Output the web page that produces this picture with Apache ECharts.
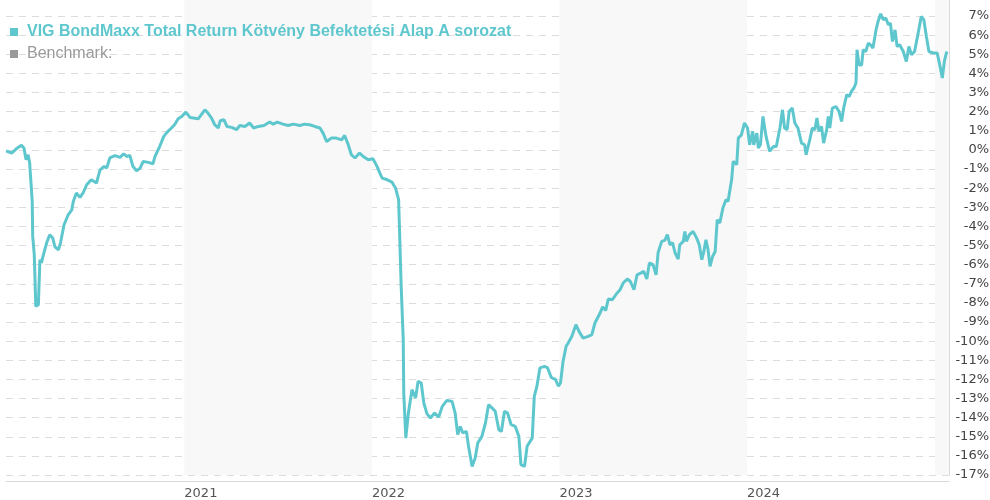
<!DOCTYPE html>
<html>
<head>
<meta charset="utf-8">
<script src="https://cdn.jsdelivr.net/npm/echarts@6/dist/echarts.min.js"></script>
<style>html,body{margin:0;padding:0;background:#fff}#c{width:990px;height:500px}</style>
</head>
<body>
<div id="c"></div>
<script>
const fundName = 'VIG BondMaxx Total Return Kötvény Befektetési Alap A sorozat';
const benchName = 'Benchmark:';
const yearLabels = ['2021', '2022', '2023', '2024'];
const dates = [
'2020-01-20','2020-01-31','2020-02-09','2020-02-19','2020-02-24','2020-02-28','2020-03-03','2020-03-06','2020-03-11','2020-03-12',
'2020-03-15','2020-03-18','2020-03-23','2020-03-26','2020-03-29','2020-04-01','2020-04-08','2020-04-14','2020-04-20','2020-04-24',
'2020-05-01','2020-05-05','2020-05-12','2020-05-20','2020-05-27','2020-05-30','2020-06-05','2020-06-12','2020-06-18','2020-06-25',
'2020-07-04','2020-07-14','2020-07-21','2020-07-29','2020-08-03','2020-08-09','2020-08-19','2020-08-29','2020-09-05','2020-09-11',
'2020-09-17','2020-09-23','2020-09-30','2020-10-07','2020-10-13','2020-10-23','2020-11-01','2020-11-05','2020-11-14','2020-11-22',
'2020-11-30','2020-12-07','2020-12-13','2020-12-20','2020-12-27',
'2021-01-04','2021-01-12','2021-01-28','2021-02-10','2021-02-16','2021-02-23','2021-03-01','2021-03-08','2021-03-12','2021-03-19',
'2021-03-25','2021-04-03','2021-04-13','2021-04-19','2021-04-29','2021-05-08','2021-05-16','2021-05-25','2021-06-05','2021-06-16',
'2021-06-23','2021-07-01','2021-07-12','2021-07-22','2021-08-01','2021-08-14','2021-08-23','2021-09-02','2021-09-12','2021-09-22',
'2021-09-28','2021-10-05','2021-10-14','2021-10-24','2021-11-03','2021-11-09','2021-11-16','2021-11-22','2021-11-29','2021-12-08',
'2021-12-15','2021-12-25',
'2022-01-03','2022-01-11','2022-01-18','2022-01-21','2022-01-31','2022-02-09','2022-02-12','2022-02-16','2022-02-22','2022-02-27',
'2022-03-03','2022-03-04','2022-03-08','2022-03-13','2022-03-20','2022-03-27','2022-04-01','2022-04-07','2022-04-12','2022-04-18',
'2022-04-25','2022-05-03','2022-05-11','2022-05-18','2022-05-27','2022-06-06','2022-06-12','2022-06-17','2022-06-22','2022-06-27',
'2022-07-04','2022-07-08','2022-07-15','2022-07-21','2022-07-26','2022-08-03','2022-08-10','2022-08-16','2022-08-23','2022-08-29',
'2022-09-05','2022-09-10','2022-09-16','2022-09-22','2022-09-29','2022-10-07','2022-10-14','2022-10-18','2022-10-25','2022-10-30',
'2022-11-09','2022-11-13','2022-11-18','2022-11-24','2022-12-03','2022-12-09','2022-12-16','2022-12-24','2022-12-30',
'2023-01-03','2023-01-08','2023-01-14','2023-01-18','2023-01-25','2023-02-02','2023-02-08','2023-02-16','2023-02-26','2023-03-05',
'2023-03-11','2023-03-21','2023-03-26','2023-04-01','2023-04-06','2023-04-14','2023-04-22','2023-04-29','2023-05-05','2023-05-13',
'2023-05-19','2023-05-26','2023-06-01','2023-06-08','2023-06-14','2023-06-20','2023-06-25','2023-07-02','2023-07-08','2023-07-12',
'2023-07-19','2023-07-25','2023-07-30','2023-08-04','2023-08-09','2023-08-14','2023-08-20','2023-08-23','2023-08-30','2023-09-02',
'2023-09-05','2023-09-11','2023-09-18','2023-09-25','2023-09-30','2023-10-05','2023-10-09','2023-10-13','2023-10-17','2023-10-21',
'2023-10-26','2023-10-31','2023-11-04','2023-11-09','2023-11-15','2023-11-21','2023-11-25','2023-12-02','2023-12-05','2023-12-12',
'2023-12-15','2023-12-21','2023-12-27',
'2024-01-02','2024-01-06','2024-01-12','2024-01-14','2024-01-20','2024-01-23','2024-01-27','2024-02-01','2024-02-07','2024-02-14',
'2024-02-21','2024-02-27','2024-03-05','2024-03-10','2024-03-14','2024-03-19','2024-03-23','2024-03-29','2024-04-03','2024-04-09',
'2024-04-16','2024-04-22','2024-04-25','2024-05-02','2024-05-07','2024-05-12','2024-05-16','2024-05-20','2024-05-25','2024-05-29',
'2024-06-04','2024-06-07','2024-06-10','2024-06-15','2024-06-22','2024-06-28','2024-07-03','2024-07-07','2024-07-13','2024-07-18',
'2024-07-22','2024-07-27','2024-07-31','2024-08-02','2024-08-06','2024-08-11','2024-08-14','2024-08-19','2024-08-24','2024-08-28',
'2024-09-02','2024-09-08','2024-09-12','2024-09-17','2024-09-22','2024-09-27','2024-10-02','2024-10-06','2024-10-10','2024-10-15',
'2024-10-19','2024-10-24','2024-10-31','2024-11-06','2024-11-11','2024-11-16','2024-11-22','2024-11-29','2024-12-05','2024-12-10',
'2024-12-15','2024-12-20','2024-12-28',
'2025-01-05','2025-01-10','2025-01-15','2025-01-19','2025-01-22','2025-01-24'
];
const fundValues = [
-0.05,-0.16,0.06,0.24,0.10,-0.51,-0.25,-0.67,-2.69,-4.52,
-5.48,-8.18,-8.09,-5.74,-5.91,-5.57,-4.87,-4.43,-4.61,-5.05,
-5.22,-4.87,-3.91,-3.39,-3.13,-2.69,-2.25,-2.48,-2.25,-1.82,
-1.56,-1.73,-1.04,-0.86,-0.95,-0.42,-0.30,-0.39,-0.20,-0.34,
-0.29,-0.86,-1.09,-0.95,-0.60,-0.65,-0.72,-0.34,0.18,0.71,
0.97,1.15,1.32,1.63,1.75,
1.98,1.70,1.63,2.10,1.93,1.67,1.32,1.15,1.53,1.58,
1.23,1.18,1.06,1.28,1.23,1.41,1.15,1.23,1.28,1.46,
1.35,1.46,1.35,1.28,1.35,1.28,1.35,1.32,1.23,1.15,
0.88,0.44,0.62,0.62,0.53,0.76,0.27,-0.25,-0.42,-0.16,
-0.34,-0.51,
-0.46,-0.86,-1.30,-1.47,-1.56,-1.68,-1.82,-1.99,-2.60,-7.14,
-9.92,-12.71,-15.07,-13.76,-12.54,-12.97,-12.10,-12.19,-13.23,-13.79,
-14.02,-13.76,-13.97,-13.41,-13.10,-13.15,-13.76,-14.89,-14.46,-14.80,
-14.72,-15.50,-16.55,-16.11,-15.33,-14.98,-14.28,-13.32,-13.50,-13.67,
-14.63,-14.72,-13.67,-13.76,-14.37,-14.46,-14.98,-16.46,-16.55,-15.50,
-15.07,-12.89,-12.37,-11.40,-11.32,-11.40,-11.90,-12.00,-12.35,
-12.19,-11.06,-10.27,-10.10,-9.75,-9.14,-9.49,-9.84,-9.75,-9.66,
-9.05,-8.53,-8.21,-8.39,-7.80,-7.83,-7.52,-7.31,-6.96,-6.75,
-6.88,-7.31,-6.53,-6.44,-6.35,-6.75,-5.91,-6.00,-6.53,-5.36,
-4.78,-4.73,-4.43,-4.96,-4.84,-5.39,-5.71,-4.96,-4.78,-4.26,
-4.78,-4.43,-4.26,-4.61,-4.96,-5.74,-5.31,-4.70,-5.20,-6.09,
-5.57,-5.31,-3.65,-3.82,-3.04,-2.60,-2.69,-1.56,-0.60,-0.77,
0.62,0.79,1.41,
1.15,0.27,0.97,0.27,0.88,0.10,0.27,1.75,0.71,-0.08,
0.18,0.18,1.15,2.10,1.15,1.06,2.01,2.19,1.41,1.15,
0.36,0.27,-0.25,0.53,1.15,1.06,1.67,0.97,1.23,0.36,
1.06,1.75,1.15,2.19,2.27,2.01,1.49,2.19,2.89,2.80,
3.06,3.24,3.50,5.24,4.45,4.45,5.24,5.15,5.59,5.50,
5.33,6.28,6.72,7.12,6.81,6.90,6.55,6.63,5.67,6.28,
5.41,5.50,5.15,4.63,5.41,4.98,5.15,6.11,6.98,6.81,
5.93,5.15,5.07,
5.07,4.45,3.76,4.63,4.98,5.15
];
const shadedYears = [['2021-01-01','2022-01-01'],['2023-01-01','2024-01-01'],['2025-01-01','2025-01-28']];
const axisMin = '2020-01-20';
const axisMax = '2025-01-28';
const yMin = -17, yMax = 8;

const fundColor = '#5ec7ce';
const benchColor = '#9a9a9a';

const chart = echarts.init(document.getElementById('c'), null, {renderer: 'canvas'});
chart.setOption({
  animation: false,
  backgroundColor: '#ffffff',
  grid: {left: 6, right: 41, top: -3, bottom: 25, containLabel: false, outerBoundsMode: 'none'},
  legend: {
    orient: 'vertical', left: 10, top: 24, itemGap: 6, padding: 0,
    itemWidth: 8, itemHeight: 8, icon: 'rect', selectedMode: false,
    textStyle: {fontFamily: 'Liberation Sans, Arial', fontSize: 16, lineHeight: 16, padding: [0,0,0,4]},
    data: [
      {name: fundName, itemStyle: {color: fundColor}, textStyle: {color: fundColor, fontWeight: 'bold'}},
      {name: benchName, itemStyle: {color: benchColor}, textStyle: {color: benchColor, fontWeight: 'normal'}}
    ]
  },
  xAxis: {
    type: 'time', min: axisMin, max: axisMax, offset: 6,
    splitNumber: 5,
    axisLine: {show: true, onZero: false, lineStyle: {color: '#d9d9d9', width: 1}},
    axisTick: {show: false},
    splitLine: {show: false},
    axisLabel: {
      color: '#555', fontFamily: 'DejaVu Sans', fontSize: 13, align: 'left', margin: 6,
      formatter: function (v) {
        const d = new Date(v);
        const y = String(d.getFullYear());
        return (d.getMonth() === 0 && d.getDate() === 1 && yearLabels.indexOf(y) >= 0) ? y : '';
      },
      showMinLabel: false, showMaxLabel: false
    }
  },
  yAxis: {
    type: 'value', position: 'right', min: yMin, max: yMax, interval: 1,
    axisLine: {show: true, lineStyle: {color: '#d9d9d9', width: 1}},
    axisTick: {show: false},
    splitLine: {show: true, lineStyle: {color: '#dcdcdc', width: 1, type: [7, 6]}},
    axisLabel: {
      color: '#444', fontFamily: 'DejaVu Sans', fontSize: 13, align: 'right', margin: 40,
      formatter: function (v) { return v >= yMax ? '' : v + '%'; }
    }
  },
  series: [
    {
      name: benchName, type: 'line', data: [], z: -1, color: benchColor,
      markArea: {silent: true, itemStyle: {color: '#f8f8f8'},
        data: shadedYears.map(function (r) { return [{xAxis: r[0]}, {xAxis: r[1]}]; })}
    },
    {
      name: fundName, type: 'line', showSymbol: false, symbol: 'none', color: fundColor,
      lineStyle: {color: fundColor, width: 3}, z: 3,
      data: dates.map(function (d, i) { return [d, fundValues[i]]; })
    }
  ]
});
</script>
</body>
</html>
